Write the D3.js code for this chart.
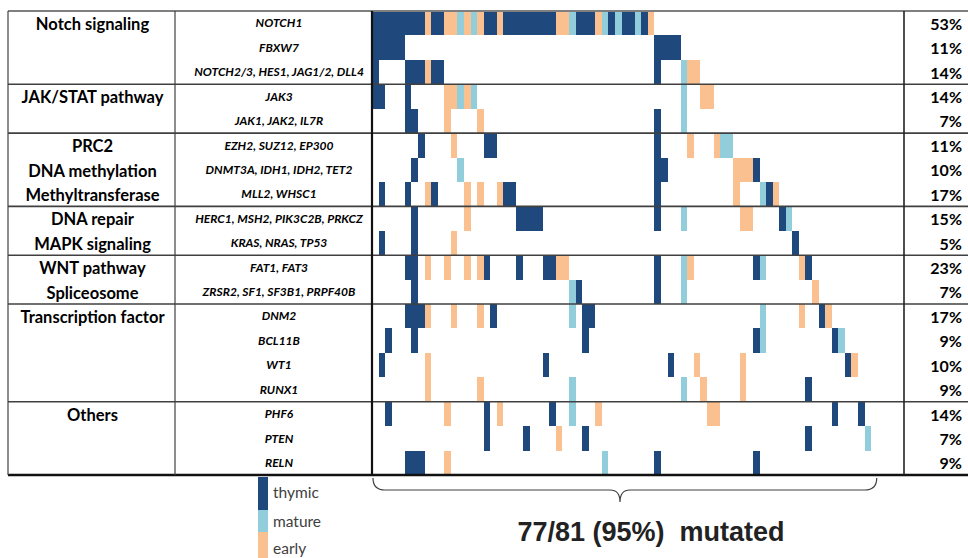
<!DOCTYPE html>
<html>
<head>
<meta charset="utf-8">
<script src="https://cdn.jsdelivr.net/npm/d3@7"></script>
<style>
  html, body { margin: 0; padding: 0; background: #fff; }
  svg { display: block; }
</style>
</head>
<body>
<svg id="chart" width="968" height="558"></svg>
<script>
// Gene rows, top to bottom
const genes = [
  "NOTCH1", "FBXW7", "NOTCH2/3, HES1, JAG1/2, DLL4",
  "JAK3", "JAK1, JAK2, IL7R",
  "EZH2, SUZ12, EP300", "DNMT3A, IDH1, IDH2, TET2", "MLL2, WHSC1",
  "HERC1, MSH2, PIK3C2B, PRKCZ", "KRAS, NRAS, TP53",
  "FAT1, FAT3", "ZRSR2, SF1, SF3B1, PRPF40B",
  "DNM2", "BCL11B", "WT1", "RUNX1",
  "PHF6", "PTEN", "RELN"
];

// Pathway labels and the row each one sits on
const categories = [
  "Notch signaling", "JAK/STAT pathway", "PRC2", "DNA methylation",
  "Methyltransferase", "DNA repair", "MAPK signaling", "WNT pathway",
  "Spliceosome", "Transcription factor", "Others"
];
const categoryRows = [0, 3, 5, 6, 7, 8, 9, 10, 11, 12, 16];

// First row of each pathway block (block separators are drawn above these)
const blockStarts = [3, 5, 8, 10, 12, 16];

// Subtype of every mutated sample, in column order (T thymic, M mature, E early)
const sampleType = [
  "T","T","T","T","T","T","T","T","E","T",
  "T","E","E","M","E","M","E","T","T","E",
  "T","T","T","T","T","T","T","T","E","E",
  "M","T","T","T","E","M","T","M","T","T",
  "M","T","E","T","T","T","T","M","E","E",
  "E","E","E","M","M","E","E","E","T","M",
  "T","E","T","M","T","E","T","E","T","E",
  "T","M","T","E","T","M","T"
];
const totalSamples = 81;

// Mutated sample columns for each gene row
const mutations = [
  d3.range(0, 43),                                              // NOTCH1
  [0, 1, 2, 3, 4, 43, 44, 45, 46],                              // FBXW7
  [0, 5, 6, 7, 8, 9, 10, 43, 47, 48, 49],                       // NOTCH2/3 ...
  [0, 1, 5, 11, 12, 13, 14, 15, 47, 50, 51],                    // JAK3
  [5, 6, 11, 16, 43, 47],                                       // JAK1 ...
  [7, 12, 17, 18, 43, 48, 52, 53, 54],                          // EZH2 ...
  [6, 13, 43, 44, 55, 56, 57, 58],                              // DNMT3A ...
  [1, 5, 8, 9, 14, 16, 19, 20, 21, 43, 55, 59, 60, 61],         // MLL2 ...
  [6, 14, 22, 23, 24, 25, 43, 47, 56, 57, 62, 63],              // HERC1 ...
  [1, 6, 12, 64],                                               // KRAS ...
  [5, 6, 8, 11, 14, 16, 17, 22, 26, 27, 28, 29, 43, 47, 48, 58, 59, 65, 66], // FAT1 ...
  [6, 30, 31, 43, 47, 67],                                      // ZRSR2 ...
  [5, 6, 7, 8, 12, 16, 18, 30, 32, 33, 59, 65, 68, 69],         // DNM2
  [2, 6, 32, 58, 59, 70, 71],                                   // BCL11B
  [1, 8, 26, 45, 49, 56, 72, 73],                               // WT1
  [8, 16, 30, 47, 50, 56, 66],                                  // RUNX1
  [2, 11, 17, 19, 27, 30, 34, 51, 52, 70, 74],                  // PHF6
  [17, 23, 28, 32, 66, 75],                                     // PTEN
  [5, 6, 7, 11, 35, 43, 58]                                     // RELN
];

const legendKeys = ["T", "M", "E"];
const legendLabels = ["thymic", "mature", "early"];
const mutatedCount = 77;

const color = d3.scaleOrdinal()
  .domain(["T", "M", "E"])
  .range(["#1f497d", "#92cddc", "#fac090"]);

const svg = d3.select("#chart");

const gridLeft = 372, gridRight = 904, gridTop = 11, gridBottom = 475;
const tableLeft = 8, catRight = 175, tableRight = 968;
const labelFont = "Lato, 'Open Sans', sans-serif";

const x = d3.scaleBand().domain(d3.range(totalSamples)).range([gridLeft, gridRight]);
const y = d3.scaleBand().domain(d3.range(genes.length)).range([gridTop, gridBottom]);

// Mutation cells
const cells = [];
mutations.forEach((cols, r) => cols.forEach(c => cells.push({ r, c, t: sampleType[c] })));

svg.append("g")
  .attr("shape-rendering", "crispEdges")
  .selectAll("rect")
  .data(cells)
  .join("rect")
  .attr("x", d => x(d.c))
  .attr("y", d => y(d.r))
  .attr("width", x.bandwidth())
  .attr("height", y.bandwidth())
  .attr("fill", d => color(d.t));

// Table rules
const lines = svg.append("g");
lines.append("line")
  .attr("x1", tableLeft).attr("x2", tableRight)
  .attr("y1", gridTop).attr("y2", gridTop)
  .attr("stroke", "#7f7f7f").attr("stroke-width", 2);

blockStarts.forEach(r => {
  lines.append("line")
    .attr("x1", tableLeft).attr("x2", tableRight)
    .attr("y1", y(r)).attr("y2", y(r))
    .attr("stroke", "#404040").attr("stroke-width", 1.6);
});

lines.append("line")
  .attr("x1", tableLeft).attr("x2", tableRight)
  .attr("y1", gridBottom).attr("y2", gridBottom)
  .attr("stroke", "#111").attr("stroke-width", 2.5);

[[tableLeft, 1.2, "#404040"], [catRight, 1.2, "#404040"], [gridLeft, 2.2, "#111"], [gridRight, 1.6, "#222"]]
  .forEach(([xx, w, c]) => {
    lines.append("line")
      .attr("x1", xx).attr("x2", xx)
      .attr("y1", gridTop).attr("y2", gridBottom)
      .attr("stroke", c).attr("stroke-width", w);
  });

// Pathway labels
svg.append("g")
  .selectAll("text")
  .data(categories)
  .join("text")
  .attr("x", (tableLeft + catRight) / 2 + 1)
  .attr("y", (d, i) => y(categoryRows[i]) + y.bandwidth() / 2 + 1)
  .attr("dy", "0.35em")
  .attr("text-anchor", "middle")
  .attr("font-family", labelFont)
  .attr("font-weight", "bold")
  .attr("font-size", 16.5)
  .attr("fill", "#000")
  .text(d => d);

// Gene labels
svg.append("g")
  .selectAll("text")
  .data(genes)
  .join("text")
  .attr("x", 279)
  .attr("y", (d, i) => y(i) + y.bandwidth() / 2)
  .attr("dy", "0.35em")
  .attr("text-anchor", "middle")
  .attr("font-family", labelFont)
  .attr("font-weight", "bold")
  .attr("font-style", "italic")
  .attr("font-size", 12)
  .attr("fill", "#000")
  .text(d => d);

// Mutation frequency per gene
svg.append("g")
  .selectAll("text")
  .data(mutations)
  .join("text")
  .attr("x", 962)
  .attr("y", (d, i) => y(i) + y.bandwidth() / 2 + 1)
  .attr("dy", "0.35em")
  .attr("text-anchor", "end")
  .attr("font-family", labelFont)
  .attr("font-weight", "bold")
  .attr("font-size", 16)
  .attr("fill", "#000")
  .text(d => Math.round(d.length / totalSamples * 100) + "%");

// Subtype legend
const legendY = d3.scaleOrdinal().domain(legendKeys).range([[477, 510], [510, 532], [532, 558]]);
const legend = svg.append("g");
legend.selectAll("rect")
  .data(legendKeys)
  .join("rect")
  .attr("x", 258)
  .attr("y", d => legendY(d)[0])
  .attr("width", 10)
  .attr("height", d => legendY(d)[1] - legendY(d)[0])
  .attr("fill", d => color(d));
legend.selectAll("text")
  .data(legendLabels)
  .join("text")
  .attr("x", 273)
  .attr("y", (d, i) => [493, 522, 549][i])
  .attr("dy", "0.35em")
  .attr("font-family", labelFont)
  .attr("font-size", 15.5)
  .attr("fill", "#404040")
  .text(d => d);

// Brace spanning the mutated samples
const bx0 = x(0) + 1, bx1 = x(mutatedCount - 1) + x.bandwidth() - 1;
const bmid = 620, btop = 478, bbar = 490, btip = 502;
const brace = d3.path();
brace.moveTo(bx0, btop);
brace.quadraticCurveTo(bx0, bbar, bx0 + 12, bbar);
brace.lineTo(bmid - 10, bbar);
brace.quadraticCurveTo(bmid, bbar, bmid, btip);
brace.quadraticCurveTo(bmid, bbar, bmid + 10, bbar);
brace.lineTo(bx1 - 12, bbar);
brace.quadraticCurveTo(bx1, bbar, bx1, btop);
svg.append("path")
  .attr("d", brace.toString())
  .attr("fill", "none")
  .attr("stroke", "#404040")
  .attr("stroke-width", 1.2);

svg.append("text")
  .attr("x", 651)
  .attr("y", 541)
  .attr("text-anchor", "middle")
  .attr("font-family", "'Liberation Sans', Arial, sans-serif")
  .attr("font-weight", "bold")
  .attr("font-size", 27)
  .attr("fill", "#222")
  .attr("xml:space", "preserve")
  .text(mutatedCount + "/" + totalSamples + " (" + Math.round(mutatedCount / totalSamples * 100) + "%)  mutated");
</script>
</body>
</html>
